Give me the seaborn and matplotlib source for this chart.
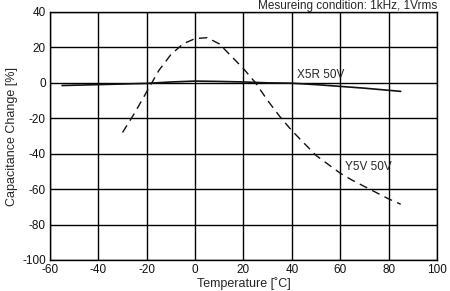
import matplotlib
matplotlib.use("Agg")
import matplotlib.pyplot as plt
import seaborn as sns
import pandas as pd

x5r_temp = [-55, -40, -20, -10, 0, 10, 20, 30, 40, 50, 60, 70, 85]
x5r_cap = [-1.5, -1.0, -0.3, 0.5, 1.0, 0.8, 0.5, 0.0, -0.2, -1.0, -2.0, -3.0, -4.8]

y5v_temp = [-30, -25, -20, -15, -10, -5, 0, 5, 10, 15, 20, 25, 30, 35, 40, 45, 50, 55, 60, 65, 70, 75, 80, 85]
y5v_cap = [-28, -17, -5, 7, 16, 22, 25, 25.5, 22, 15, 8, 0, -10, -19, -27, -34, -41, -46, -51, -55, -58.5, -62, -65.5, -68.5]

x_ticks = [-60, -40, -20, 0, 20, 40, 60, 80, 100]
y_ticks = [40, 20, 0, -20, -40, -60, -80, -100]

sns.set_theme(style="white")
plt.rcParams['font.family'] = ['Liberation Sans', 'DejaVu Sans']

fig = plt.figure(figsize=(4.5, 2.91), dpi=100)
ax = fig.add_axes([50/450, 1 - 260/291, 387/450, 248/291])

df1 = pd.DataFrame({"t": x5r_temp, "c": x5r_cap})
df2 = pd.DataFrame({"t": y5v_temp, "c": y5v_cap})
sns.lineplot(data=df1, x="t", y="c", ax=ax, color="#111111", linewidth=1.2)
sns.lineplot(data=df2, x="t", y="c", ax=ax, color="#111111", linewidth=1.0, dashes=False)
ax.lines[-1].set_dashes([6, 4])

ax.set_xlim(-60, 100)
ax.set_ylim(-100, 40)
ax.set_xticks(x_ticks)
ax.set_yticks(y_ticks)
ax.set_xticklabels([str(v) for v in x_ticks], fontsize=8.5)
ax.set_yticklabels([str(v) for v in y_ticks], fontsize=8.5)
ax.tick_params(axis="x", length=0, pad=3, colors="#111111")
ax.tick_params(axis="y", length=0, pad=3, colors="#111111")
ax.grid(True, color="#000000", linewidth=1.0)
for s in ax.spines.values():
    s.set_color("#000000")
    s.set_linewidth(1.0)

ax.set_xlabel("Temperature [˚C]", fontsize=9, labelpad=1)
ax.set_ylabel("Capacitance Change [%]", fontsize=9, labelpad=3)
ax.set_title("Mesureing condition: 1kHz, 1Vrms", fontsize=8.5, loc="right", pad=2.5)

ax.text(42, 4.5, "X5R 50V", fontsize=8.5, va="center", ha="left")
ax.text(62, -47.5, "Y5V 50V", fontsize=8.5, va="center", ha="left")

fig.savefig("out.png", dpi=100, facecolor="white")
